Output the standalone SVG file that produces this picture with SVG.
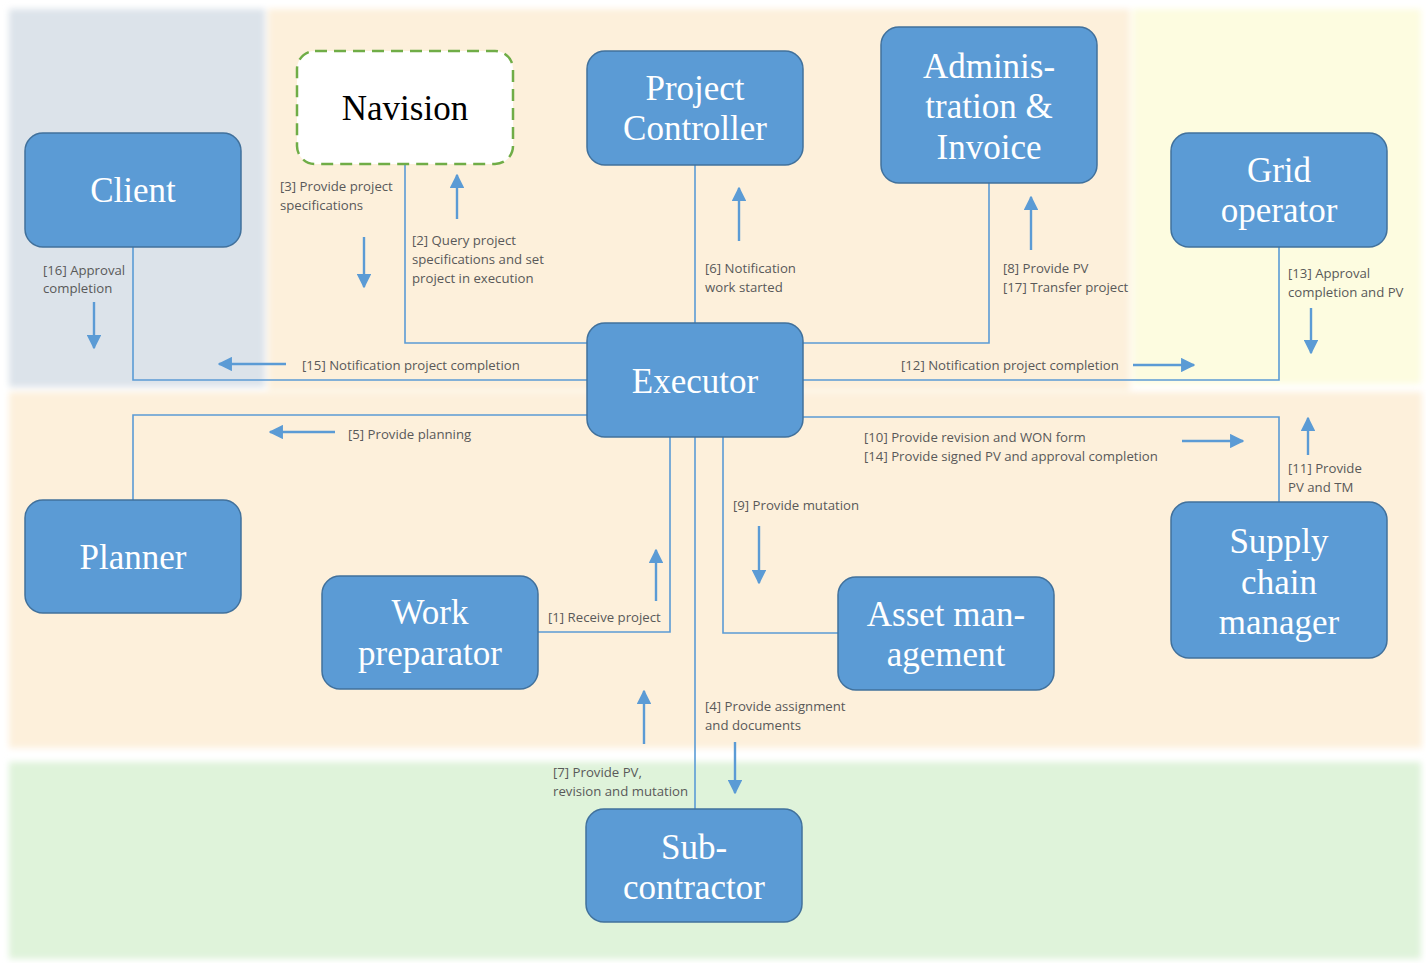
<svg xmlns="http://www.w3.org/2000/svg" width="1426" height="963" viewBox="0 0 1426 963">
  <style>
    .node rect { fill: #5b9bd5; stroke: #41719c; stroke-width: 1.5; }
    .node text { font-family: "Liberation Serif", "Times New Roman", serif; font-size: 35px; fill: #ffffff; text-anchor: middle; }
    .link { fill: none; stroke: #5b9bd5; stroke-width: 1.6; }
    .flow { fill: none; stroke: #5b9bd5; stroke-width: 2.4; marker-end: url(#head); }
    .lbl { font-family: "Open Sans", "Liberation Sans", sans-serif; font-size: 13.2px; fill: #595959; }
  </style>
  <defs>
    <marker id="head" viewBox="0 0 10 10" refX="9" refY="5" markerWidth="6" markerHeight="6" orient="auto" markerUnits="strokeWidth">
      <path d="M0,0 L10,5 L0,10 z" fill="#5b9bd5"/>
    </marker>
    <filter id="soft" x="-5%" y="-5%" width="110%" height="110%">
      <feGaussianBlur stdDeviation="3"/>
    </filter>
  </defs>

  <rect width="1426" height="963" fill="#ffffff"/>

  <!-- swimlane areas -->
  <g id="areas" filter="url(#soft)">
    <rect x="9" y="9" width="256" height="378" fill="#dce3ea"/>
    <rect x="268" y="9" width="862" height="381" fill="#fdf0db"/>
    <rect x="1133" y="9" width="288" height="375" fill="#fdfce0"/>
    <rect x="9" y="392" width="1413" height="356" fill="#fdf0db"/>
    <rect x="9" y="762" width="1412" height="197" fill="#dff3da"/>
  </g>

  <!-- connectors -->
  <g id="connectors">
    <polyline class="link" points="405,164 405,343 588,343"/>
    <polyline class="link" points="133,247 133,380 588,380"/>
    <polyline class="link" points="695,165 695,323"/>
    <polyline class="link" points="989,183 989,343 803,343"/>
    <polyline class="link" points="1279,247 1279,380 803,380"/>
    <polyline class="link" points="133,500 133,415 588,415"/>
    <polyline class="link" points="803,417 1279,417 1279,502"/>
    <polyline class="link" points="538,632 670,632 670,437"/>
    <polyline class="link" points="838,633 723,633 723,437"/>
    <polyline class="link" points="695,437 695,809"/>

    <!-- direction arrows -->
    <line class="flow" x1="364" y1="237" x2="364" y2="287"/>
    <line class="flow" x1="457" y1="219" x2="457" y2="175"/>
    <line class="flow" x1="739" y1="241" x2="739" y2="188"/>
    <line class="flow" x1="1031" y1="250" x2="1031" y2="197"/>
    <line class="flow" x1="94" y1="302" x2="94" y2="348"/>
    <line class="flow" x1="286" y1="364" x2="219" y2="364"/>
    <line class="flow" x1="1133" y1="365" x2="1194" y2="365"/>
    <line class="flow" x1="1311" y1="308" x2="1311" y2="353"/>
    <line class="flow" x1="335" y1="432" x2="270" y2="432"/>
    <line class="flow" x1="1182" y1="441" x2="1243" y2="441"/>
    <line class="flow" x1="1308" y1="455" x2="1308" y2="418"/>
    <line class="flow" x1="759" y1="526" x2="759" y2="583"/>
    <line class="flow" x1="656" y1="601" x2="656" y2="550"/>
    <line class="flow" x1="644" y1="744" x2="644" y2="691"/>
    <line class="flow" x1="735" y1="742" x2="735" y2="793"/>

    <!-- connector labels -->
    <text class="lbl" x="280" y="191">[3] Provide project</text>
    <text class="lbl" x="280" y="210">specifications</text>
    <text class="lbl" x="412" y="245">[2] Query project</text>
    <text class="lbl" x="412" y="264">specifications and set</text>
    <text class="lbl" x="412" y="283">project in execution</text>
    <text class="lbl" x="43" y="275">[16] Approval</text>
    <text class="lbl" x="43" y="293">completion</text>
    <text class="lbl" x="302" y="370">[15] Notification project completion</text>
    <text class="lbl" x="705" y="273">[6] Notification</text>
    <text class="lbl" x="705" y="292">work started</text>
    <text class="lbl" x="1003" y="273">[8] Provide PV</text>
    <text class="lbl" x="1003" y="292">[17] Transfer project</text>
    <text class="lbl" x="901" y="370">[12] Notification project completion</text>
    <text class="lbl" x="1288" y="278">[13] Approval</text>
    <text class="lbl" x="1288" y="297">completion and PV</text>
    <text class="lbl" x="348" y="439">[5] Provide planning</text>
    <text class="lbl" x="864" y="442">[10] Provide revision and WON form</text>
    <text class="lbl" x="864" y="461">[14] Provide signed PV and approval completion</text>
    <text class="lbl" x="1288" y="473">[11] Provide</text>
    <text class="lbl" x="1288" y="492">PV and TM</text>
    <text class="lbl" x="733" y="510">[9] Provide mutation</text>
    <text class="lbl" x="548" y="622">[1] Receive project</text>
    <text class="lbl" x="705" y="711">[4] Provide assignment</text>
    <text class="lbl" x="705" y="730">and documents</text>
    <text class="lbl" x="553" y="777">[7] Provide PV,</text>
    <text class="lbl" x="553" y="796">revision and mutation</text>
  </g>

  <!-- nodes -->
  <g id="client" class="node">
    <rect x="25" y="133" width="216" height="114" rx="18"/>
    <text x="133" y="202">Client</text>
  </g>
  <g id="navision">
    <rect x="297" y="51" width="216" height="113" rx="18" fill="#ffffff" stroke="#70ad47" stroke-width="2.5" stroke-dasharray="12,7"/>
    <text x="405" y="120" font-family="Liberation Serif, Times New Roman, serif" font-size="35" fill="#000000" text-anchor="middle">Navision</text>
  </g>
  <g id="project-controller" class="node">
    <rect x="587" y="51" width="216" height="114" rx="18"/>
    <text x="695" y="100">Project</text>
    <text x="695" y="140">Controller</text>
  </g>
  <g id="administration" class="node">
    <rect x="881" y="27" width="216" height="156" rx="18"/>
    <text x="989" y="78">Adminis-</text>
    <text x="989" y="118">tration &amp;</text>
    <text x="989" y="159">Invoice</text>
  </g>
  <g id="grid-operator" class="node">
    <rect x="1171" y="133" width="216" height="114" rx="18"/>
    <text x="1279" y="182">Grid</text>
    <text x="1279" y="222">operator</text>
  </g>
  <g id="executor" class="node">
    <rect x="587" y="323" width="216" height="114" rx="18"/>
    <text x="695" y="393">Executor</text>
  </g>
  <g id="planner" class="node">
    <rect x="25" y="500" width="216" height="113" rx="18"/>
    <text x="133" y="569">Planner</text>
  </g>
  <g id="work-preparator" class="node">
    <rect x="322" y="576" width="216" height="113" rx="18"/>
    <text x="430" y="624">Work</text>
    <text x="430" y="665">preparator</text>
  </g>
  <g id="asset-management" class="node">
    <rect x="838" y="577" width="216" height="113" rx="18"/>
    <text x="946" y="626">Asset man-</text>
    <text x="946" y="666">agement</text>
  </g>
  <g id="supply-chain-manager" class="node">
    <rect x="1171" y="502" width="216" height="156" rx="18"/>
    <text x="1279" y="553">Supply</text>
    <text x="1279" y="594">chain</text>
    <text x="1279" y="634">manager</text>
  </g>
  <g id="subcontractor" class="node">
    <rect x="586" y="809" width="216" height="113" rx="18"/>
    <text x="694" y="859">Sub-</text>
    <text x="694" y="899">contractor</text>
  </g>
</svg>
